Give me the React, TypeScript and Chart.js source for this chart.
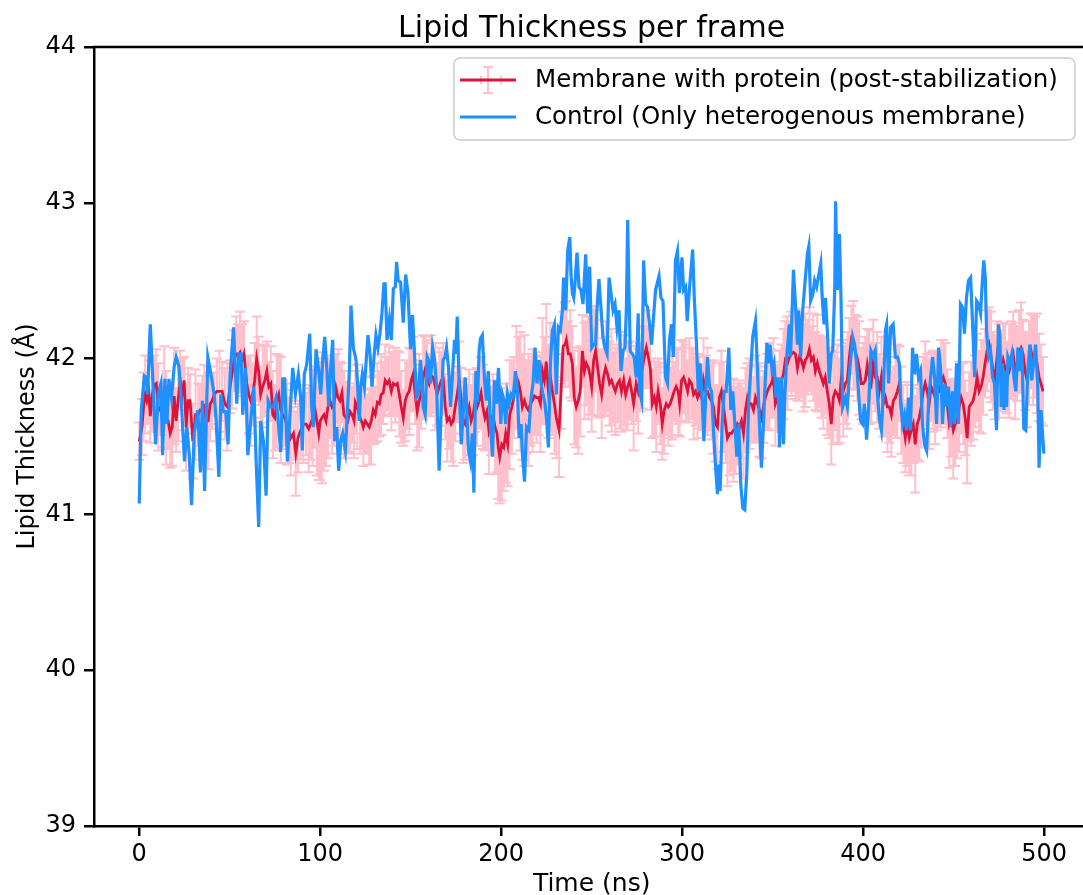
import React, { useEffect, useRef } from "react";
import { Chart, registerables } from "chart.js";

Chart.register(...registerables);

const titleText = "Lipid Thickness per frame";
const xLabel = "Time (ns)";
const yLabel = "Lipid Thickness (Å)";
const membraneLabel = "Membrane with protein (post-stabilization)";
const controlLabel = "Control (Only heterogenous membrane)";

const xTickValues = [0, 100, 200, 300, 400, 500];
const yTickValues = [39, 40, 41, 42, 43, 44];

const membraneTime = [
  0.0, 1.5, 2.4, 3.3, 4.2, 5.2, 6.1, 7.2, 8.3, 9.4,
  10.5, 11.6, 12.7, 13.8, 14.9, 16.0, 17.1, 18.2, 19.3, 20.4,
  21.5, 22.6, 23.7, 24.8, 25.9, 27.0, 28.1, 29.6, 31.1, 32.6,
  33.7, 34.8, 35.9, 37.0, 38.1, 39.2, 40.3, 41.4, 42.9, 44.3,
  45.8, 47.3, 48.7, 50.2, 51.3, 52.4, 53.5, 54.6, 55.7, 56.8,
  57.9, 59.4, 60.5, 61.6, 62.7, 63.8, 64.9, 66.0, 67.1, 68.2,
  69.4, 70.5, 71.6, 72.7, 73.8, 74.9, 76.0, 77.1, 78.2, 79.3,
  80.4, 81.5, 82.6, 83.7, 85.2, 86.5, 87.7, 89.2, 90.7, 92.2,
  93.6, 94.7, 95.8, 96.9, 98.1, 99.2, 100.0, 101.0, 102.1, 103.2,
  104.3, 105.4, 106.5, 107.6, 108.7, 109.8, 110.9, 112.0, 113.1, 114.2,
  115.3, 116.4, 117.6, 118.7, 119.4, 120.5, 122.0, 123.1, 123.8, 124.9,
  126.0, 127.1, 128.2, 129.3, 130.4, 131.6, 132.7, 133.7, 134.8, 135.9,
  137.0, 138.1, 139.3, 140.4, 141.5, 142.6, 143.7, 144.8, 145.9, 147.0,
  148.1, 149.2, 150.3, 151.4, 152.5, 153.6, 154.7, 155.8, 156.9, 158.0,
  159.1, 160.2, 161.3, 162.4, 163.6, 164.6, 165.8, 166.9, 168.0, 169.1,
  170.2, 171.3, 172.4, 173.5, 174.6, 175.7, 176.8, 177.9, 179.0, 180.1,
  181.2, 182.3, 183.4, 184.5, 185.6, 186.7, 187.8, 188.9, 189.9, 191.0,
  192.1, 193.2, 194.4, 195.5, 196.6, 197.7, 198.4, 199.2, 200.3, 201.4,
  202.5, 203.6, 204.7, 205.9, 207.0, 208.4, 209.5, 210.6, 211.7, 212.8,
  213.9, 215.0, 216.2, 217.3, 218.4, 219.5, 220.6, 221.7, 222.8, 223.9,
  224.9, 226.1, 227.2, 228.3, 229.4, 230.5, 232.0, 233.1, 234.2, 235.3,
  236.0, 237.1, 238.2, 239.3, 240.4, 241.5, 242.6, 243.7, 244.9, 246.0,
  247.0, 248.2, 249.3, 250.0, 251.1, 252.2, 253.3, 254.4, 255.5, 256.6,
  257.7, 258.8, 259.9, 261.0, 262.1, 263.1, 264.3, 265.4, 266.5, 267.7,
  268.8, 269.9, 271.0, 272.1, 273.2, 274.6, 275.7, 276.9, 278.0, 279.1,
  280.2, 281.3, 282.4, 283.5, 284.6, 285.7, 286.7, 287.9, 289.0, 290.1,
  291.2, 292.3, 293.4, 294.5, 295.6, 296.7, 297.8, 298.6, 299.7, 300.8,
  301.9, 303.0, 304.0, 305.2, 306.3, 307.4, 308.5, 309.6, 310.7, 311.8,
  312.9, 314.0, 315.1, 316.2, 317.3, 318.4, 319.5, 320.6, 321.7, 322.9,
  324.0, 325.0, 326.2, 327.3, 328.4, 329.5, 330.6, 331.7, 332.8, 333.9,
  335.0, 336.1, 337.2, 338.2, 339.4, 340.5, 341.6, 342.7, 343.8, 344.9,
  346.0, 347.1, 348.2, 349.3, 350.4, 351.5, 352.6, 353.8, 354.9, 356.0,
  357.0, 358.2, 359.3, 360.4, 361.5, 362.6, 363.7, 364.8, 365.9, 367.0,
  368.1, 369.2, 370.3, 371.4, 372.5, 373.6, 374.7, 375.8, 376.9, 378.0,
  379.1, 380.2, 381.3, 382.4, 383.5, 384.6, 385.8, 386.9, 388.0, 389.0,
  390.2, 391.3, 392.4, 393.5, 394.6, 395.7, 396.8, 397.8, 399.0, 400.1,
  401.2, 402.3, 403.4, 404.5, 405.6, 406.7, 407.8, 408.9, 410.1, 411.2,
  412.3, 413.4, 414.5, 415.6, 416.7, 417.8, 418.9, 420.0, 421.1, 422.2,
  423.3, 424.4, 425.5, 426.6, 427.7, 428.8, 429.9, 431.0, 432.1, 433.2,
  434.3, 435.4, 436.5, 437.6, 438.7, 439.8, 440.9, 442.0, 443.1, 444.3,
  445.4, 446.5, 447.6, 448.7, 449.8, 450.9, 452.0, 453.1, 454.2, 455.3,
  456.4, 457.5, 458.6, 459.7, 460.8, 461.9, 463.0, 464.1, 465.2, 466.3,
  467.4, 468.5, 469.6, 470.7, 471.8, 472.9, 474.0, 475.2, 476.3, 477.4,
  478.5, 479.6, 480.7, 481.8, 482.9, 484.0, 485.1, 486.2, 487.3, 488.4,
  489.5, 490.6, 491.7, 492.8, 493.9, 495.0, 496.1, 497.2, 498.3, 499.4,
];

const membraneThickness = [
  41.47, 41.56, 41.69, 41.77, 41.73, 41.79, 41.63, 41.77, 41.83, 41.84,
  41.69, 41.67, 41.64, 41.82, 41.62, 41.60, 41.52, 41.56, 41.76, 41.60,
  41.73, 41.86, 41.77, 41.86, 41.56, 41.73, 41.73, 41.47, 41.64, 41.64,
  41.67, 41.67, 41.69, 41.60, 41.60, 41.71, 41.73, 41.77, 41.79, 41.79,
  41.79, 41.71, 41.69, 41.82, 41.90, 41.99, 42.03, 42.02, 42.04, 41.99,
  42.03, 41.84, 41.77, 41.73, 41.77, 41.86, 42.00, 41.92, 41.77, 41.82,
  41.86, 41.92, 41.82, 41.84, 41.64, 41.62, 41.73, 41.77, 41.67, 41.64,
  41.62, 41.58, 41.54, 41.49, 41.52, 41.39, 41.49, 41.54, 41.58, 41.58,
  41.55, 41.58, 41.62, 41.69, 41.60, 41.52, 41.60, 41.62, 41.64, 41.60,
  41.69, 41.73, 41.69, 41.71, 41.81, 41.75, 41.73, 41.78, 41.64, 41.62,
  41.60, 41.66, 41.64, 41.60, 41.72, 41.69, 41.62, 41.59, 41.56, 41.60,
  41.58, 41.56, 41.60, 41.67, 41.64, 41.72, 41.71, 41.77, 41.78, 41.86,
  41.84, 41.86, 41.79, 41.84, 41.83, 41.84, 41.77, 41.69, 41.62, 41.73,
  41.77, 41.79, 41.86, 41.90, 41.77, 41.66, 41.73, 41.77, 41.88, 41.93,
  41.88, 41.84, 41.89, 41.88, 41.82, 41.77, 41.82, 41.86, 41.87, 41.69,
  41.60, 41.62, 41.58, 41.60, 41.69, 41.77, 41.86, 41.73, 41.60, 41.58,
  41.64, 41.69, 41.60, 41.64, 41.73, 41.69, 41.73, 41.78, 41.69, 41.62,
  41.66, 41.54, 41.60, 41.64, 41.56, 41.52, 41.43, 41.37, 41.45, 41.43,
  41.52, 41.45, 41.64, 41.69, 41.75, 41.88, 41.85, 41.79, 41.69, 41.73,
  41.69, 41.67, 41.71, 41.73, 41.76, 41.75, 41.75, 41.71, 41.92, 41.86,
  41.98, 41.79, 41.88, 41.79, 41.71, 41.62, 41.54, 41.79, 42.08, 42.09,
  42.12, 42.03, 42.03, 41.97, 41.75, 41.69, 41.73, 41.79, 42.05, 41.92,
  41.97, 41.94, 41.88, 41.82, 41.99, 42.05, 41.94, 41.84, 41.77, 41.88,
  41.94, 41.90, 41.84, 41.86, 41.82, 41.79, 41.84, 41.86, 41.79, 41.86,
  41.77, 41.82, 41.86, 41.79, 41.71, 41.84, 41.79, 41.88, 41.94, 42.01,
  42.07, 42.01, 41.94, 41.71, 41.75, 41.69, 41.79, 41.71, 41.58, 41.67,
  41.71, 41.69, 41.71, 41.75, 41.79, 41.82, 41.79, 41.71, 41.86, 41.88,
  41.84, 41.79, 41.86, 41.84, 41.77, 41.79, 41.75, 41.79, 41.75, 41.86,
  41.79, 41.79, 41.75, 41.73, 41.69, 41.58, 41.56, 41.75, 41.79, 41.69,
  41.58, 41.49, 41.52, 41.52, 41.54, 41.54, 41.58, 41.56, 41.60, 41.52,
  41.67, 41.75, 41.71, 41.71, 41.67, 41.75, 41.71, 41.67, 41.62, 41.69,
  41.75, 41.79, 41.82, 41.84, 41.88, 41.71, 41.75, 41.79, 41.86, 41.90,
  41.99, 41.97, 42.01, 42.03, 42.04, 42.03, 41.94, 42.01, 41.99, 41.94,
  41.99, 42.01, 42.06, 41.99, 42.01, 41.92, 41.97, 41.92, 41.88, 41.84,
  41.88, 41.79, 41.71, 41.58, 41.75, 41.79, 41.77, 41.73, 41.88, 41.79,
  41.84, 41.86, 42.01, 42.12, 42.09, 42.04, 42.00, 41.94, 41.84, 41.84,
  41.86, 41.96, 41.88, 41.84, 41.98, 41.88, 41.88, 41.79, 41.88, 41.71,
  41.75, 41.69, 41.69, 41.64, 41.73, 41.75, 41.79, 41.84, 41.67, 41.58,
  41.49, 41.58, 41.49, 41.54, 41.58, 41.45, 41.58, 41.62, 41.69, 41.79,
  41.84, 41.79, 41.71, 41.82, 41.79, 41.75, 41.79, 41.79, 41.84, 41.88,
  41.84, 41.71, 41.58, 41.62, 41.54, 41.58, 41.60, 41.69, 41.75, 41.71,
  41.62, 41.49, 41.69, 41.71, 41.73, 41.79, 41.88, 41.79, 41.82, 41.88,
  41.97, 42.05, 42.09, 42.01, 41.92, 41.88, 42.01, 41.92, 41.92, 41.99,
  41.94, 41.88, 41.92, 41.99, 42.03, 41.92, 41.97, 42.05, 42.07, 42.03,
  41.92, 41.86, 41.97, 42.05, 41.99, 42.01, 41.97, 41.88, 41.84, 41.79,
];

const membraneError = [
  0.12, 0.18, 0.22, 0.25, 0.15, 0.20, 0.17, 0.24, 0.19, 0.22,
  0.28, 0.16, 0.21, 0.26, 0.30, 0.18, 0.22, 0.25, 0.31, 0.20,
  0.26, 0.19, 0.23, 0.15, 0.28, 0.21, 0.17, 0.24, 0.29, 0.20,
  0.16, 0.22, 0.27, 0.19, 0.31, 0.24, 0.18, 0.14, 0.21, 0.26,
  0.19, 0.23, 0.28, 0.17, 0.22, 0.19, 0.24, 0.20, 0.26, 0.23,
  0.21, 0.17, 0.25, 0.29, 0.20, 0.24, 0.27, 0.22, 0.18, 0.26,
  0.23, 0.19, 0.16, 0.24, 0.28, 0.21, 0.30, 0.25, 0.34, 0.22,
  0.18, 0.26, 0.21, 0.24, 0.17, 0.27, 0.22, 0.19, 0.25, 0.20,
  0.28, 0.23, 0.31, 0.26, 0.35, 0.30, 0.38, 0.42, 0.36, 0.29,
  0.33, 0.24, 0.30, 0.27, 0.22, 0.31, 0.25, 0.19, 0.28, 0.23,
  0.21, 0.26, 0.18, 0.24, 0.20, 0.27, 0.23, 0.17, 0.25, 0.21,
  0.19, 0.24, 0.28, 0.22, 0.18, 0.25, 0.21, 0.26, 0.20, 0.23,
  0.17, 0.22, 0.25, 0.19, 0.24, 0.21, 0.27, 0.23, 0.18, 0.26,
  0.22, 0.28, 0.20, 0.24, 0.19, 0.25, 0.30, 0.22, 0.27, 0.21,
  0.24, 0.19, 0.26, 0.22, 0.28, 0.20, 0.25, 0.18, 0.23, 0.21,
  0.26, 0.20, 0.24, 0.29, 0.22, 0.18, 0.25, 0.21, 0.27, 0.23,
  0.19, 0.24, 0.22, 0.26, 0.20, 0.25, 0.18, 0.23, 0.27, 0.21,
  0.24, 0.28, 0.22, 0.26, 0.30, 0.25, 0.33, 0.30, 0.36, 0.28,
  0.32, 0.27, 0.35, 0.30, 0.26, 0.33, 0.29, 0.38, 0.34, 0.42,
  0.30, 0.36, 0.27, 0.33, 0.25, 0.29, 0.24, 0.31, 0.34, 0.28,
  0.37, 0.30, 0.35, 0.28, 0.32, 0.26, 0.30, 0.24, 0.22, 0.27,
  0.25, 0.21, 0.28, 0.24, 0.30, 0.26, 0.34, 0.29, 0.23, 0.31,
  0.27, 0.33, 0.24, 0.29, 0.35, 0.26, 0.31, 0.22, 0.28, 0.25,
  0.30, 0.24, 0.27, 0.33, 0.22, 0.28, 0.25, 0.31, 0.26, 0.29,
  0.23, 0.28, 0.25, 0.21, 0.30, 0.24, 0.27, 0.22, 0.26, 0.20,
  0.24, 0.19, 0.27, 0.22, 0.25, 0.29, 0.21, 0.26, 0.23, 0.28,
  0.20, 0.25, 0.22, 0.27, 0.19, 0.24, 0.28, 0.21, 0.26, 0.23,
  0.25, 0.20, 0.27, 0.23, 0.29, 0.22, 0.26, 0.24, 0.21, 0.27,
  0.23, 0.28, 0.21, 0.25, 0.30, 0.24, 0.27, 0.22, 0.26, 0.29,
  0.25, 0.31, 0.27, 0.24, 0.33, 0.28, 0.26, 0.30, 0.24, 0.29,
  0.27, 0.22, 0.29, 0.25, 0.21, 0.27, 0.24, 0.30, 0.26, 0.23,
  0.20, 0.24, 0.28, 0.22, 0.25, 0.27, 0.21, 0.26, 0.23, 0.29,
  0.25, 0.30, 0.22, 0.27, 0.24, 0.29, 0.21, 0.26, 0.23, 0.28,
  0.30, 0.24, 0.27, 0.22, 0.28, 0.25, 0.31, 0.23, 0.26, 0.29,
  0.24, 0.28, 0.22, 0.26, 0.30, 0.25, 0.32, 0.27, 0.24, 0.29,
  0.26, 0.31, 0.25, 0.22, 0.28, 0.24, 0.27, 0.30, 0.23, 0.26,
  0.28, 0.23, 0.30, 0.25, 0.27, 0.22, 0.29, 0.24, 0.26, 0.21,
  0.25, 0.29, 0.23, 0.27, 0.22, 0.26, 0.30, 0.24, 0.28, 0.25,
  0.22, 0.27, 0.24, 0.29, 0.25, 0.31, 0.23, 0.28, 0.26, 0.22,
  0.27, 0.24, 0.29, 0.22, 0.26, 0.30, 0.25, 0.23, 0.28, 0.24,
  0.26, 0.22, 0.28, 0.25, 0.31, 0.27, 0.24, 0.29, 0.23, 0.26,
  0.24, 0.29, 0.22, 0.27, 0.25, 0.23, 0.28, 0.26, 0.30, 0.24,
  0.22, 0.26, 0.24, 0.29, 0.25, 0.27, 0.23, 0.30, 0.26, 0.24,
  0.28, 0.23, 0.30, 0.25, 0.27, 0.31, 0.24, 0.26, 0.29, 0.22,
  0.25, 0.30, 0.27, 0.24, 0.29, 0.26, 0.32, 0.28, 0.25, 0.22,
];

const controlTime = [
  0.0, 1.1, 2.8, 3.9, 4.6, 6.1, 7.5, 9.0, 10.5, 12.0,
  12.9, 14.2, 15.3, 16.4, 17.8, 19.3, 20.4, 21.9, 23.0, 25.0,
  26.3, 27.6, 28.9, 30.4, 32.4, 33.8, 34.9, 36.1, 37.9, 39.9,
  41.4, 42.5, 44.0, 45.1, 46.5, 47.8, 49.1, 50.2, 52.1, 53.9,
  55.0, 56.3, 57.2, 58.7, 60.0, 61.3, 63.3, 64.6, 66.0, 67.1,
  68.6, 70.1, 71.2, 72.7, 74.1, 75.6, 76.9, 78.2, 79.3, 80.4,
  81.9, 83.3, 84.8, 86.3, 87.9, 89.2, 90.1, 91.2, 92.5, 94.2,
  95.3, 96.2, 97.7, 99.0, 100.3, 101.4, 102.5, 103.6, 104.7, 105.8,
  106.9, 108.0, 109.1, 110.2, 111.3, 112.4, 113.9, 115.3, 116.1, 117.0,
  118.3, 119.8, 120.7, 121.6, 122.4, 123.3, 124.4, 125.3, 126.4, 127.5,
  128.6, 129.7, 130.8, 131.9, 133.0, 134.1, 135.2, 135.9, 136.9, 138.2,
  139.3, 140.4, 141.5, 142.2, 143.1, 144.4, 145.9, 147.2, 148.5, 149.9,
  151.0, 152.1, 153.2, 154.3, 155.4, 156.2, 156.9, 158.0, 159.1, 159.8,
  160.9, 162.1, 163.2, 164.3, 165.7, 166.8, 167.9, 169.0, 169.8, 170.9,
  172.0, 173.1, 174.2, 174.9, 175.7, 176.8, 177.9, 179.0, 180.1, 180.8,
  181.9, 183.0, 184.1, 184.9, 186.0, 186.9, 187.8, 188.6, 189.6, 190.8,
  191.8, 192.9, 194.0, 195.2, 196.3, 197.4, 198.5, 199.8, 200.7, 201.6,
  202.5, 203.5, 204.4, 205.5, 206.6, 207.9, 209.0, 209.9, 211.0, 211.7,
  212.9, 214.0, 215.3, 216.5, 217.6, 218.7, 219.8, 220.9, 222.0, 223.1,
  224.2, 225.0, 226.1, 227.2, 228.3, 229.4, 230.5, 231.6, 232.7, 233.8,
  234.5, 235.7, 236.7, 237.9, 238.6, 239.3, 240.1, 240.8, 241.9, 243.0,
  244.1, 245.2, 246.7, 247.8, 248.9, 250.0, 251.1, 252.2, 252.9, 254.0,
  255.1, 256.2, 257.3, 258.5, 259.6, 260.7, 261.8, 262.9, 264.0, 265.1,
  266.2, 267.3, 268.4, 269.2, 269.9, 270.6, 271.3, 272.4, 273.5, 274.6,
  275.7, 276.5, 277.6, 278.7, 279.8, 280.9, 282.0, 283.1, 284.2, 285.3,
  287.2, 288.3, 289.4, 290.8, 291.9, 293.0, 294.1, 295.1, 296.3, 297.4,
  298.5, 299.9, 300.8, 301.9, 302.8, 304.1, 305.8, 306.7, 307.8, 308.9,
  309.9, 310.9, 312.0, 313.1, 314.0, 315.1, 316.2, 317.3, 318.4, 319.5,
  320.3, 321.0, 322.1, 323.2, 324.3, 325.8, 326.9, 328.0, 329.1, 330.2,
  331.3, 332.4, 333.5, 334.6, 335.7, 336.8, 337.9, 339.0, 340.5, 341.6,
  342.7, 343.8, 344.9, 346.0, 346.8, 347.9, 348.6, 349.7, 350.8, 351.9,
  353.0, 353.8, 354.9, 356.0, 356.7, 357.8, 359.2, 359.9, 361.5, 362.6,
  363.7, 364.4, 365.5, 366.6, 368.1, 369.2, 370.0, 371.0, 372.2, 373.2,
  374.3, 376.6, 377.3, 378.4, 379.2, 380.3, 381.3, 382.4, 383.2, 384.3,
  384.8, 385.8, 386.9, 387.8, 388.7, 390.2, 391.3, 392.4, 394.2, 395.3,
  396.4, 397.9, 398.6, 399.7, 400.7, 401.9, 403.1, 404.3, 405.6, 406.7,
  407.8, 408.9, 410.1, 411.2, 412.3, 413.0, 414.1, 415.2, 416.6, 417.8,
  418.9, 420.0, 420.7, 421.8, 422.9, 424.0, 425.1, 426.2, 427.3, 428.4,
  429.5, 430.6, 431.7, 432.8, 433.9, 435.1, 436.2, 437.3, 438.4, 439.5,
  440.6, 441.7, 442.8, 443.9, 445.0, 446.1, 447.2, 448.3, 449.4, 450.5,
  451.6, 452.7, 453.8, 454.9, 456.0, 457.1, 458.2, 459.4, 460.5, 461.6,
  462.7, 463.8, 464.9, 466.0, 466.7, 467.5, 468.2, 469.3, 470.4, 471.5,
  472.6, 473.7, 474.8, 475.6, 476.3, 477.0, 477.8, 478.5, 479.3, 480.0,
  481.1, 482.2, 483.3, 484.4, 485.5, 486.6, 487.7, 488.8, 489.9, 491.0,
  492.1, 493.2, 494.2, 495.3, 496.5, 497.2, 498.3, 499.0, 499.9,
];

const controlThickness = [
  41.07, 41.67, 41.89, 41.88, 41.77, 42.22, 41.86, 41.45, 41.77, 41.84,
  41.38, 41.87, 41.58, 41.87, 41.75, 41.95, 42.01, 41.95, 41.77, 41.34,
  41.56, 41.39, 41.06, 41.52, 41.67, 41.27, 41.73, 41.15, 42.01, 41.88,
  41.77, 41.60, 41.24, 41.77, 41.66, 41.66, 41.45, 41.90, 42.20, 41.71,
  42.03, 42.03, 41.64, 41.94, 41.38, 41.56, 41.82, 41.34, 40.92, 41.60,
  41.47, 41.12, 41.73, 41.69, 41.69, 41.75, 41.58, 41.40, 41.87, 41.87,
  41.34, 41.64, 41.94, 41.77, 41.90, 41.75, 41.41, 41.90, 41.96, 42.16,
  41.69, 41.56, 42.06, 41.94, 41.77, 41.99, 42.14, 41.94, 41.69, 41.94,
  42.12, 41.47, 41.56, 41.28, 41.47, 41.52, 41.41, 41.73, 41.92, 42.34,
  42.07, 41.99, 41.82, 41.60, 41.82, 41.90, 41.82, 41.97, 42.15, 42.03,
  41.82, 42.01, 42.15, 42.07, 42.16, 42.29, 42.48, 42.48, 42.12, 42.25,
  42.12, 42.45, 42.46, 42.62, 42.50, 42.49, 42.23, 42.54, 42.42, 42.06,
  42.28, 42.03, 41.75, 41.77, 41.99, 41.88, 41.69, 41.64, 42.01, 41.99,
  41.84, 42.07, 41.99, 41.82, 41.28, 41.64, 41.99, 42.01, 42.07, 41.94,
  41.69, 41.90, 42.12, 42.03, 42.27, 41.82, 41.45, 41.64, 41.88, 41.73,
  41.41, 41.34, 41.52, 41.14, 41.92, 41.72, 42.05, 42.13, 42.15, 41.86,
  41.73, 41.92, 41.58, 41.37, 41.86, 41.71, 41.94, 41.58, 41.77, 41.73,
  41.58, 41.77, 41.71, 41.77, 41.75, 41.92, 41.79, 41.49, 41.58, 41.39,
  41.21, 41.56, 41.54, 41.75, 41.84, 42.07, 41.84, 41.99, 41.84, 41.77,
  41.71, 41.62, 41.43, 41.97, 42.18, 42.22, 41.77, 42.20, 42.18, 42.31,
  42.52, 42.31, 42.69, 42.78, 42.54, 42.42, 42.39, 42.48, 42.68, 42.46,
  42.44, 42.35, 42.67, 42.29, 42.59, 42.07, 42.09, 42.09, 42.31, 42.51,
  42.33, 42.14, 42.07, 42.03, 42.52, 42.42, 42.31, 42.35, 42.20, 42.31,
  41.92, 42.05, 42.07, 42.33, 42.89, 42.44, 42.05, 42.03, 42.01, 41.88,
  42.29, 41.79, 41.73, 42.63, 42.35, 42.33, 42.22, 42.09, 42.27, 42.44,
  42.53, 42.39, 42.37, 41.88, 41.84, 42.12, 42.22, 42.01, 42.63, 42.69,
  42.42, 42.65, 42.44, 42.46, 42.24, 42.46, 42.70, 42.39, 42.12, 41.79,
  41.97, 41.79, 41.47, 41.79, 42.01, 41.82, 41.79, 41.54, 41.32, 41.13,
  41.32, 41.15, 41.58, 41.79, 41.79, 42.07, 41.67, 41.79, 41.58, 41.37,
  41.58, 41.19, 41.04, 41.03, 41.26, 41.73, 41.92, 42.14, 42.24, 41.94,
  41.58, 41.30, 41.58, 41.88, 42.10, 41.97, 42.09, 41.92, 41.97, 41.75,
  41.88, 41.43, 41.88, 41.45, 41.75, 42.01, 42.22, 42.01, 42.57, 42.35,
  42.09, 42.31, 42.01, 42.31, 42.52, 42.67, 42.72, 42.37, 42.41, 42.50,
  42.46, 42.61, 42.41, 42.22, 42.39, 42.16, 41.84, 42.03, 42.05, 42.44,
  43.01, 42.44, 42.80, 42.37, 41.69, 41.75, 41.69, 41.90, 42.14, 42.09,
  41.97, 41.71, 41.60, 41.58, 41.71, 41.48, 41.71, 42.05, 42.01, 42.05,
  41.79, 41.62, 41.54, 41.79, 42.18, 42.22, 41.84, 42.20, 42.22, 42.01,
  42.01, 41.97, 41.75, 41.58, 41.64, 41.54, 41.75, 41.54, 42.07, 41.90,
  42.03, 41.88, 41.92, 41.58, 41.45, 41.41, 41.73, 41.88, 42.01, 41.88,
  41.58, 42.07, 41.94, 41.58, 41.84, 41.69, 41.82, 41.56, 41.79, 41.58,
  41.97, 41.58, 42.35, 42.33, 42.16, 42.39, 42.50, 42.52, 42.22, 41.88,
  42.37, 42.35, 42.29, 42.52, 42.63, 42.52, 42.18, 42.01, 42.05, 41.88,
  41.84, 41.54, 42.22, 42.14, 41.69, 41.97, 41.67, 41.92, 41.69, 42.01,
  41.97, 42.03, 41.88, 41.79, 42.07, 41.92, 42.07, 41.55, 41.54, 41.92,
  42.09, 41.86, 41.97, 42.09, 41.82, 41.30, 41.67, 41.54, 41.39,
];

const FONT = "'DejaVu Sans', sans-serif";
const RED = "#DC143C";
const BLUE = "#1E90FF";
const PINK = "#FFC0CB";

const decorPlugin = {
  id: "decor",
  beforeDatasetsDraw(chart: any) {
    const { ctx, chartArea, scales } = chart;
    const xs = scales.x;
    const ys = scales.y;
    ctx.save();
    ctx.beginPath();
    ctx.rect(chartArea.left, chartArea.top, chartArea.right - chartArea.left, chartArea.bottom - chartArea.top);
    ctx.clip();
    ctx.strokeStyle = PINK;
    ctx.lineWidth = 2;
    ctx.beginPath();
    for (let i = 0; i < membraneTime.length; i++) {
      const e = membraneError[i];
      const v = membraneThickness[i];
      if (e === undefined || v === undefined) continue;
      const px = xs.getPixelForValue(membraneTime[i]);
      const y1 = ys.getPixelForValue(v + e);
      const y2 = ys.getPixelForValue(v - e);
      ctx.moveTo(px, y1);
      ctx.lineTo(px, y2);
      ctx.moveTo(px - 5, y1);
      ctx.lineTo(px + 5, y1);
      ctx.moveTo(px - 5, y2);
      ctx.lineTo(px + 5, y2);
    }
    ctx.stroke();
    ctx.restore();
  },
  afterDraw(chart: any) {
    const { ctx, chartArea, scales } = chart;
    const xs = scales.x;
    const ys = scales.y;
    const cx = xs.getPixelForValue(250);
    const cy = (ys.getPixelForValue(44) + ys.getPixelForValue(39)) / 2;
    ctx.save();
    ctx.strokeStyle = "#000";
    ctx.lineWidth = 2.5;
    ctx.beginPath();
    ctx.moveTo(chartArea.left - 1.25, chartArea.top);
    ctx.lineTo(chartArea.right, chartArea.top);
    ctx.stroke();

    ctx.fillStyle = "#000";
    ctx.textAlign = "center";
    ctx.textBaseline = "alphabetic";
    ctx.font = `30px ${FONT}`;
    ctx.fillText(titleText, cx, 37);

    ctx.font = `25px ${FONT}`;
    ctx.fillText(xLabel, cx, 891);

    ctx.save();
    ctx.translate(34, cy);
    ctx.rotate(-Math.PI / 2);
    ctx.font = `24px ${FONT}`;
    ctx.fillText(yLabel, 0, 0);
    ctx.restore();

    const bx = 454, by = 58, bw = 621, bh = 82, r = 6;
    ctx.beginPath();
    ctx.moveTo(bx + r, by);
    ctx.lineTo(bx + bw - r, by);
    ctx.arcTo(bx + bw, by, bx + bw, by + r, r);
    ctx.lineTo(bx + bw, by + bh - r);
    ctx.arcTo(bx + bw, by + bh, bx + bw - r, by + bh, r);
    ctx.lineTo(bx + r, by + bh);
    ctx.arcTo(bx, by + bh, bx, by + bh - r, r);
    ctx.lineTo(bx, by + r);
    ctx.arcTo(bx, by, bx + r, by, r);
    ctx.closePath();
    ctx.fillStyle = "rgba(255,255,255,0.8)";
    ctx.fill();
    ctx.strokeStyle = "#cccccc";
    ctx.lineWidth = 1.5;
    ctx.stroke();

    const row1 = 80, row2 = 117;
    ctx.strokeStyle = PINK;
    ctx.lineWidth = 2;
    ctx.beginPath();
    ctx.moveTo(488, row1 - 13);
    ctx.lineTo(488, row1 + 13);
    ctx.moveTo(483, row1 - 13);
    ctx.lineTo(493, row1 - 13);
    ctx.moveTo(483, row1 + 13);
    ctx.lineTo(493, row1 + 13);
    ctx.moveTo(481, row1 - 4);
    ctx.lineTo(481, row1 + 4);
    ctx.moveTo(501, row1 - 4);
    ctx.lineTo(501, row1 + 4);
    ctx.stroke();
    ctx.strokeStyle = RED;
    ctx.lineWidth = 2.8;
    ctx.beginPath();
    ctx.moveTo(460, row1);
    ctx.lineTo(516, row1);
    ctx.stroke();
    ctx.strokeStyle = BLUE;
    ctx.lineWidth = 3.2;
    ctx.beginPath();
    ctx.moveTo(460, row2);
    ctx.lineTo(516, row2);
    ctx.stroke();

    ctx.fillStyle = "#000";
    ctx.textAlign = "left";
    ctx.textBaseline = "middle";
    ctx.font = `24.5px ${FONT}`;
    ctx.fillText(membraneLabel, 535, row1 + 1);
    ctx.fillText(controlLabel, 535, row2 + 1);
    ctx.restore();
  },
};

export default function App() {
  const canvasRef = useRef<HTMLCanvasElement | null>(null);

  useEffect(() => {
    const canvas = canvasRef.current;
    if (!canvas) return;
    const chart = new Chart(canvas, {
      type: "line",
      data: {
        datasets: [
          {
            label: controlLabel,
            data: controlTime.map((t, i) => ({ x: t, y: controlThickness[i] })),
            borderColor: BLUE,
            backgroundColor: BLUE,
            borderWidth: 3.2,
            pointRadius: 0,
            tension: 0,
            fill: false,
            order: 0,
          },
          {
            label: membraneLabel,
            data: membraneTime.map((t, i) => ({ x: t, y: membraneThickness[i] })),
            borderColor: RED,
            backgroundColor: RED,
            borderWidth: 2.8,
            pointRadius: 0,
            tension: 0,
            fill: false,
            order: 1,
          },
        ],
      },
      options: {
        animation: false,
        responsive: false,
        devicePixelRatio: 1,
        layout: { padding: { top: 47, left: 0, right: 0, bottom: 0 } },
        plugins: {
          legend: { display: false },
          title: { display: false },
          tooltip: { enabled: false },
        },
        scales: {
          x: {
            type: "linear",
            min: -25,
            max: 521.5,
            afterBuildTicks: (s: any) => {
              s.ticks = xTickValues.map((v) => ({ value: v }));
            },
            afterFit: (s: any) => {
              s.height = 69;
            },
            ticks: {
              color: "#000",
              font: { family: FONT, size: 24 },
              padding: 4,
              maxRotation: 0,
              autoSkip: false,
            },
            grid: {
              drawOnChartArea: false,
              drawTicks: true,
              tickLength: 10,
              color: "#000",
              lineWidth: 2.5,
            },
            border: { display: true, color: "#000", width: 2.5 },
          },
          y: {
            type: "linear",
            min: 39,
            max: 44,
            afterBuildTicks: (s: any) => {
              s.ticks = yTickValues.map((v) => ({ value: v }));
            },
            afterFit: (s: any) => {
              s.width = 94;
            },
            ticks: {
              color: "#000",
              font: { family: FONT, size: 24 },
              padding: 8,
              autoSkip: false,
            },
            grid: {
              drawOnChartArea: false,
              drawTicks: true,
              tickLength: 10,
              color: "#000",
              lineWidth: 2.5,
            },
            border: { display: true, color: "#000", width: 2.5 },
          },
        },
      },
      plugins: [decorPlugin],
    });
    return () => chart.destroy();
  }, []);

  return (
    <div style={{ position: "absolute", left: 0, top: 0, width: 1083, height: 895, background: "#fff", overflow: "hidden" }}>
      <canvas ref={canvasRef} width={1083} height={895} style={{ display: "block" }} />
    </div>
  );
}
